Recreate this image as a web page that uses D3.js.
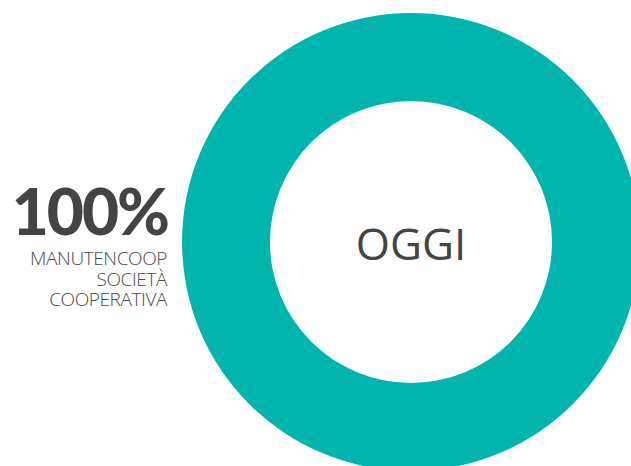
<!DOCTYPE html>
<html><head><meta charset="utf-8">
<script src="https://cdn.jsdelivr.net/npm/d3@7"></script>
<style>body{margin:0;background:#fff}svg{display:block}</style>
</head><body>
<svg id="c" width="631" height="466"></svg>
<script>
const categories = ["Manutencoop Società Cooperativa"];
const values = [100];
const centerLabel = "OGGI";
const valueLabel = "100%";
const nameLines = ["MANUTENCOOP", "SOCIETÀ", "COOPERATIVA"];
const colors = ["#00b5ae"];

const svg = d3.select("#c");
const cx = 411, cy = 242, rOuter = 229, rInner = 141;
const pie = d3.pie().sort(null)(values);
const arc = d3.arc().innerRadius(rInner).outerRadius(rOuter);
const g = svg.append("g").attr("transform", `translate(${cx},${cy})`);
g.selectAll("path").data(pie).join("path")
  .attr("d", arc).attr("fill", (d, i) => colors[i]);
g.append("text").attr("x", 0).attr("y", 18)
  .attr("text-anchor", "middle")
  .attr("font-family", "Open Sans, sans-serif")
  .attr("font-size", 44).attr("fill", "#444")
  .text(centerLabel);

svg.append("text").attr("x", 168).attr("y", 235)
  .attr("text-anchor", "end")
  .attr("font-family", "Lato, sans-serif").attr("font-weight", 900)
  .attr("font-size", 64).attr("letter-spacing", -2).attr("fill", "#444")
  .text(valueLabel);
svg.append("g").selectAll("text").data(nameLines).join("text")
  .attr("x", 167).attr("y", (d, i) => 265 + i * 20.5)
  .attr("text-anchor", "end")
  .attr("font-family", "Open Sans, sans-serif").attr("font-weight", 300)
  .attr("font-size", 19).attr("letter-spacing", -0.4).attr("fill", "#4a4a4a")
  .text(d => d);
</script>
</body></html>
